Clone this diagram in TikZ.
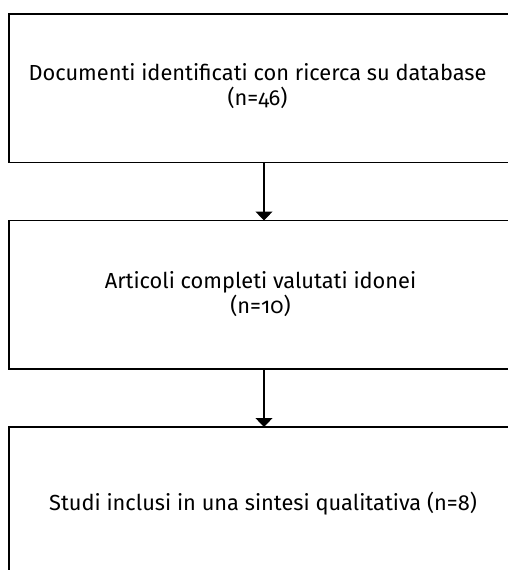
\documentclass[tikz,border=0pt]{standalone}
\usepackage{fontspec}
\setmainfont[Numbers=OldStyle]{Fira Sans}
\usetikzlibrary{arrows.meta}
\begin{document}
\begin{tikzpicture}[x=1pt,y=-1pt,
  stagebox/.style={draw=black,line width=1.3pt},
  stagetext/.style={align=center,font=\fontsize{21.8}{25.5}\selectfont,inner sep=0pt},
  flow/.style={draw=black,line width=1.2pt,-{Triangle[width=17pt,length=9pt]}}]
\useasboundingbox (0,0) rectangle (508,570);
\begin{scope}
\clip (0,0) rectangle (508,570);
\draw[stagebox] (9,14) rectangle (512,162.5);
\draw[stagebox] (9,220.5) rectangle (512,369);
\draw[stagebox] (9,427) rectangle (512,578);
\end{scope}
\coordinate (b1) at (264,162.5);
\coordinate (t2) at (264,220.5);
\coordinate (b2) at (264,369);
\coordinate (t3) at (264,427);
\node[stagetext] (n1) at (257.5,86) {Documenti identificati con ricerca su database\\(n=46)};
\node[stagetext] (n2) at (260.5,294) {Articoli completi valutati idonei\\(n=10)};
\node[stagetext] (n3) at (263,504) {Studi inclusi in una sintesi qualitativa (n=8)};
\draw[flow] (b1) -- (t2);
\draw[flow] (b2) -- (t3);
\end{tikzpicture}
\end{document}
